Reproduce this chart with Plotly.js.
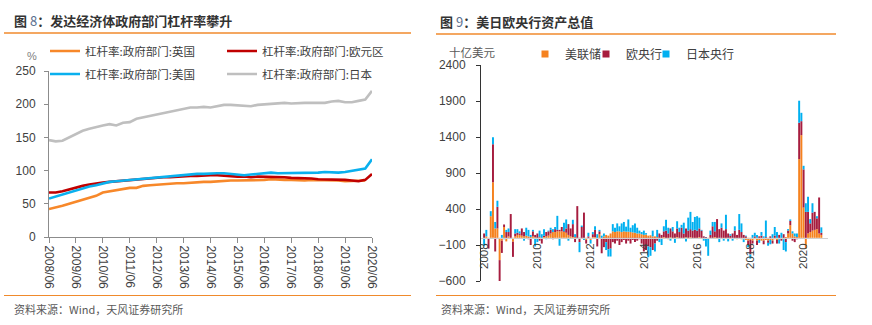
<!DOCTYPE html>
<html>
<head>
<meta charset="utf-8">
<script src="https://cdn.plot.ly/plotly-3.0.1.min.js"></script>
<style>
html,body{margin:0;padding:0;background:#fff;}
#chart{width:872px;height:325px;}
</style>
</head>
<body>
<div id="chart"></div>
<script>
// ---------- Left chart: government leverage (%), quarterly ----------
const quarters = ["2008/06","2008/09","2008/12",
"2009/03","2009/06","2009/09","2009/12",
"2010/03","2010/06","2010/09","2010/12",
"2011/03","2011/06","2011/09","2011/12",
"2012/03","2012/06","2012/09","2012/12",
"2013/03","2013/06","2013/09","2013/12",
"2014/03","2014/06","2014/09","2014/12",
"2015/03","2015/06","2015/09","2015/12",
"2016/03","2016/06","2016/09","2016/12",
"2017/03","2017/06","2017/09","2017/12",
"2018/03","2018/06","2018/09","2018/12",
"2019/03","2019/06","2019/09","2019/12",
"2020/03","2020/06"];
const leftTicks = ["2008/06","2009/06","2010/06","2011/06","2012/06","2013/06","2014/06","2015/06","2016/06","2017/06","2018/06","2019/06","2020/06"];

const ukLev = [42,44,47, 50,53,55,58, 62,67,69,71, 73,74,74,77, 78,79,79,80, 81,81,82,82, 83,83,84,84, 85,85,85,86, 86,86,87,86, 86,86,85,85, 86,86,85,85, 85,84,84,84, 85,null];
const ezLev = [67,67,69, 72,75,77,79, 81,82,83,84, 85,86,86,87, 88,89,90,90, 91,91,92,92, 93,93,93,92, 92,91,91,90, 91,91,91,90, 90,89,89,88, 88,87,87,87, 86,86,85,84, 86,95];
const usLev = [58,61,64, 68,71,73,76, 78,81,83,84, 85,86,87,88, 89,90,91,92, 93,94,94,95, 95,96,96,96, 95,94,93,94, 95,96,97,96, 96,96,97,97, 96,97,98,97, 97,98,100,101, 103,117];
const jpLev = [146,144,145, 150,156,160,163, 166,168,170,168, 172,173,178,180, 183,185,187,188, 191,193,195,195, 196,195,197,199, 199,198,197,197, 199,200,201,202, 202,201,202,202, 202,202,202,204, 205,203,203,205, 207,220];

const leftNames = ["杠杆率:政府部门:英国","杠杆率:政府部门:欧元区","杠杆率:政府部门:美国","杠杆率:政府部门:日本"];

// ---------- Right chart: monthly change in CB assets (bn USD) ----------
const months = [];
for (let y = 2008, m = 5; months.length < 153; ) {
  months.push(y + "-" + String(m).padStart(2, "0"));
  m++; if (m > 12) { m = 1; y++; }
}
const rightTickVals = ["2008-05","2010-05","2012-05","2014-05","2016-05","2018-05","2020-05"];
const rightTickText = ["2008","2010","2012","2014","2016","2018","2020"];

const fedChg = [0,20,-10,300,770,130,130,-310,-40,150,-50,20,0,-55,20,40,40,30,20,30,20,10,20,10,
0,10,0,10,20,30,60,80,80,90,90,90,80,70,40,20,10,10,0,0,-10,0,-30,0,-30,10,
10,0,50,0,20,40,30,60,90,80,90,90,80,90,85,85,80,75,70,60,60,50,40,45,30,35,
20,20,10,0,-10,10,0,-20,10,-10,0,10,0,-10,0,10,0,10,0,-10,0,10,-10,0,0,-10,
0,0,10,-10,0,0,-10,0,0,-10,0,-10,-20,-10,-20,-20,-30,-40,-30,-40,-20,-40,-30,-40,
-40,-30,-40,-30,-40,-20,-30,-20,-10,-20,10,60,175,60,20,10,1093,1426,420,-150,60,80,100,110,
120,60,40];
const ecbChg = [60,0,-140,0,530,-190,300,-290,-170,35,80,60,330,-210,40,30,20,100,60,0,-20,-100,70,30,
60,-40,-80,20,60,60,50,-20,40,20,20,60,10,60,150,110,180,-60,440,-60,150,350,-50,20,0,40,
100,-120,40,-215,-130,-60,-160,-150,-60,-80,-40,-100,-60,-30,-80,-40,-80,-30,-60,-40,-20,-80,-190,-170,-120,-130,
-170,-80,-40,60,40,80,100,60,120,90,60,120,80,140,60,120,100,110,100,110,100,120,100,20,
10,0,40,160,80,260,120,140,100,120,60,30,60,100,40,110,80,40,20,-60,-200,-40,20,-60,
20,30,-50,10,-30,20,-40,30,-50,40,-30,50,-60,40,60,-40,-60,-20,505,194,530,360,300,120,250,250,
150,500,30];
const bojChg = [-120,90,0,70,95,90,85,-20,40,-20,30,50,0,0,60,50,30,0,-40,110,90,30,20,-120,
-60,90,50,90,-20,10,30,40,30,195,-110,0,120,125,-40,0,60,40,0,-140,20,-30,0,50,-50,30,
50,50,20,30,40,-110,-100,-110,100,60,110,70,120,130,70,170,60,100,130,80,40,30,60,20,-150,-120,
80,-110,100,-60,-90,70,150,80,-40,60,-70,100,60,40,150,-50,180,240,120,180,200,150,10,-40,
-120,-240,60,60,130,0,-60,60,-30,200,-50,20,-40,60,0,220,120,-40,10,-30,-60,40,50,40,
-40,50,20,230,-40,-60,50,120,80,-60,70,-150,-130,20,20,30,40,50,306,116,50,120,210,60,130,0,
30,0,75];

const rightNames = ["美联储","欧央行","日本央行"];
const rightColors = ["#F5821F","#A61D3F","#00B0F0"];

// ---------- layout geometry (pixels -> paper) ----------
const W = 872, H = 325;
const px = v => v / W;
const py = v => 1 - v / H;

const lineColors = ["#F7882A","#C00000","#0AB0EE","#BFBFBF"];
const leftData = [ukLev, ezLev, usLev, jpLev];
const leftLegendIds = ["legend","legend2","legend3","legend4"];
const leftLegendPos = [[45, 51], [222, 51], [45, 74], [222, 74]];
const rightLegendIds = ["legend5","legend6","legend7"];
const rightLegendPos = [[525, 54], [586, 54], [646, 54]];

const baseFont = "Liberation Sans, Arial, Noto Sans CJK SC, sans-serif";
const cjkFont = "Noto Sans CJK SC, Liberation Sans, sans-serif";
const txtColor = "#404040";
const orange = "#F08A2C";

const traces = [];
leftData.forEach((arr, k) => {
  traces.push({
    type: "scatter", mode: "lines", x: quarters, y: arr,
    name: leftNames[k], xaxis: "x", yaxis: "y",
    line: {color: lineColors[k], width: 2.6},
    legend: leftLegendIds[k], connectgaps: false, hoverinfo: "skip"
  });
});
const rightData = [fedChg, ecbChg, bojChg];
rightData.forEach((arr, k) => {
  traces.push({
    type: "bar", x: months, y: arr, name: rightNames[k],
    xaxis: "x2", yaxis: "y2", marker: {color: rightColors[k], line: {width: 0}},
    showlegend: false, hoverinfo: "skip"
  });
  traces.push({
    type: "scatter", mode: "markers", x: [null], y: [null], name: rightNames[k],
    xaxis: "x2", yaxis: "y2", legend: rightLegendIds[k],
    marker: {color: rightColors[k], symbol: "square", size: 7}, hoverinfo: "skip"
  });
});

const yDomL = [py(237), py(71)];
const yDomR = [py(281), py(65)];
const zeroFrac = 600 / 3000;

const layout = {
  width: W, height: H,
  margin: {l: 0, r: 0, t: 0, b: 0, pad: 0},
  paper_bgcolor: "#fff", plot_bgcolor: "rgba(0,0,0,0)",
  font: {family: baseFont, size: 12, color: txtColor},
  barmode: "relative", bargap: 0.12,
  xaxis: {
    domain: [px(49), px(372)], anchor: "y", type: "category",
    range: [0, 48], tickmode: "array", tickvals: leftTicks, ticktext: leftTicks,
    tickangle: 90, ticks: "outside", ticklen: 5, tickcolor: "#8c8c8c",
    showline: true, linecolor: "#8c8c8c", linewidth: 1, showgrid: false, zeroline: false,
    tickfont: {size: 12, color: txtColor, family: baseFont}
  },
  yaxis: {
    domain: yDomL, anchor: "x", range: [0, 250], tickmode: "array",
    tickvals: [0, 50, 100, 150, 200, 250],
    ticks: "outside", ticklen: 4, tickcolor: "#8c8c8c", ticklabelstandoff: 6,
    showline: true, linecolor: "#8c8c8c", linewidth: 1, showgrid: false, zeroline: false,
    tickfont: {size: 12, color: txtColor, family: baseFont}
  },
  xaxis2: {
    domain: [px(481), px(828)], anchor: "free",
    position: yDomR[0] + zeroFrac * (yDomR[1] - yDomR[0]),
    type: "category", range: [-1.4, 155],
    tickmode: "array", tickvals: rightTickVals, ticktext: rightTickText,
    tickangle: -90, ticks: "", showline: true, linecolor: "#d0d0d0", linewidth: 1,
    showgrid: false, zeroline: false,
    tickfont: {size: 11.5, color: txtColor, family: baseFont}
  },
  yaxis2: {
    domain: yDomR, anchor: "x2", range: [-600, 2400],
    tickmode: "array", tickvals: [-600, -100, 400, 900, 1400, 1900, 2400],
    ticks: "outside", ticklen: 4, tickcolor: "#333", ticklabelstandoff: 8,
    showline: true, linecolor: "#333", linewidth: 1, showgrid: false, zeroline: false,
    tickfont: {size: 12, color: txtColor, family: baseFont}
  },
  shapes: [
    {type: "line", xref: "paper", yref: "paper", x0: px(4), x1: px(411), y0: py(33), y1: py(33), line: {color: orange, width: 1.5}},
    {type: "line", xref: "paper", yref: "paper", x0: px(436), x1: px(836), y0: py(34), y1: py(34), line: {color: orange, width: 1.5}},
    {type: "line", xref: "paper", yref: "paper", x0: px(4), x1: px(411), y0: py(295.5), y1: py(295.5), line: {color: orange, width: 1.2}},
    {type: "line", xref: "paper", yref: "paper", x0: px(436), x1: px(836), y0: py(295.5), y1: py(295.5), line: {color: orange, width: 1.2}}
  ],
  annotations: [
    {xref: "paper", yref: "paper", x: px(12), y: py(20), xanchor: "left", yanchor: "middle", showarrow: false,
     text: "<b>图 </b><span style='color:#5b6f8f'>8</span><b>：发达经济体政府部门杠杆率攀升</b>",
     font: {family: cjkFont, size: 13, color: "#333"}},
    {xref: "paper", yref: "paper", x: px(438), y: py(21), xanchor: "left", yanchor: "middle", showarrow: false,
     text: "<b>图 </b><span style='color:#5b6f8f'>9</span><b>：美日欧央行资产总值</b>",
     font: {family: cjkFont, size: 13, color: "#333"}},
    {xref: "paper", yref: "paper", x: px(12), y: py(309), xanchor: "left", yanchor: "middle", showarrow: false,
     text: "资料来源：Wind，天风证券研究所", font: {family: cjkFont, size: 11, color: "#595959"}},
    {xref: "paper", yref: "paper", x: px(439), y: py(309), xanchor: "left", yanchor: "middle", showarrow: false,
     text: "资料来源：Wind，天风证券研究所", font: {family: cjkFont, size: 11, color: "#595959"}},
    {xref: "paper", yref: "paper", x: px(32), y: py(56), xanchor: "center", yanchor: "middle", showarrow: false,
     text: "%", font: {family: baseFont, size: 11, color: "#808080"}},
    {xref: "paper", yref: "paper", x: px(472), y: py(52), xanchor: "center", yanchor: "middle", showarrow: false,
     text: "十亿美元", font: {family: cjkFont, size: 11.5, color: "#595959"}}
  ]
};

leftLegendIds.forEach((id, k) => {
  layout[id] = {
    orientation: "h", x: px(leftLegendPos[k][0]), xanchor: "left",
    y: py(leftLegendPos[k][1]), yanchor: "middle", bgcolor: "rgba(0,0,0,0)",
    font: {family: cjkFont, size: 11.5, color: txtColor}, itemwidth: 30
  };
});
rightLegendIds.forEach((id, k) => {
  layout[id] = {
    orientation: "h", x: px(rightLegendPos[k][0]), xanchor: "left",
    y: py(rightLegendPos[k][1]), yanchor: "middle", bgcolor: "rgba(0,0,0,0)",
    font: {family: cjkFont, size: 12, color: txtColor}, itemwidth: 30
  };
});

Plotly.newPlot("chart", traces, layout, {staticPlot: true, displayModeBar: false});
</script>
</body>
</html>
